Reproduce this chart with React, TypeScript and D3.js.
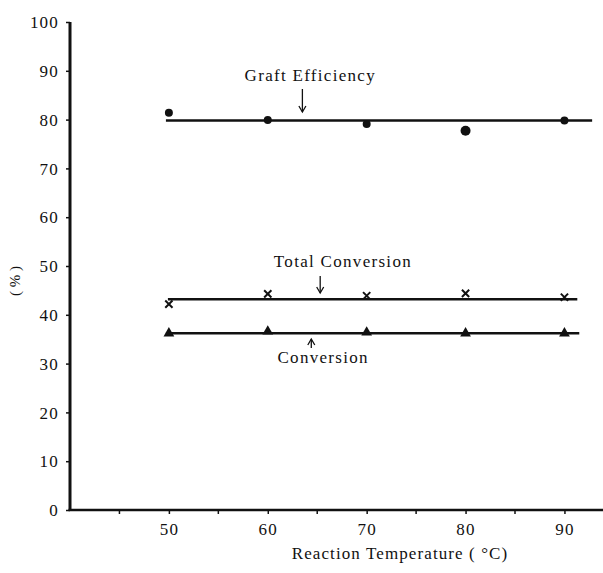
import * as d3 from 'd3'
import React, { useEffect, useRef } from 'react'

// reaction temperatures (°C)
const temps = [50, 60, 70, 80, 90];
// measured values (%)
const graftEfficiency = [81.4, 79.9, 79.1, 77.7, 79.8];
const totalConversion = [42.2, 44.3, 43.9, 44.4, 43.6];
const conversion = [36.0, 36.4, 36.2, 36.0, 36.0];
// fitted (horizontal) lines: level, start temp, end temp
const graftFit = [79.8, 49.7, 92.8];
const totalFit = [43.2, 49.9, 91.3];
const convFit = [36.2, 49.7, 91.5];

const yTicks = [0, 10, 20, 30, 40, 50, 60, 70, 80, 90, 100];
const xMajor = [50, 60, 70, 80, 90];
const xMinor = [45, 55, 65, 75, 85];

const W = 603;
const H = 573;

const App: React.FC = () => {
    const ref = useRef<SVGSVGElement>(null);

    useEffect(() => {
        if (!ref.current) return;
        const svg = d3.select(ref.current);
        svg.selectAll('*').remove();
        const font = '"Liberation Serif", "Times New Roman", serif';

        const x = d3.scaleLinear().domain([40, 94]).range([70, 604]);
        const y = d3.scaleLinear().domain([0, 100]).range([510, 22]);

        const g = svg.append('g').attr('font-family', font).attr('fill', '#111');

        // y axis
        const yAxis = g.append('g')
            .attr('transform', `translate(${x(40)},0)`)
            .call(d3.axisLeft(y).tickValues(yTicks).tickSize(4).tickPadding(7).tickFormat(d3.format('d')));
        yAxis.select('.domain').attr('stroke', '#111').attr('stroke-width', 3).attr('d', `M0,${y(100)}V${y(0)}`);
        yAxis.selectAll('.tick line').attr('stroke', '#111').attr('stroke-width', 1.5);
        yAxis.selectAll('.tick text')
            .attr('font-size', 17).attr('font-family', font).attr('fill', '#111')
            .attr('letter-spacing', 1.2).attr('dy', '0.34em');

        // x axis
        const xAxis = g.append('g')
            .attr('transform', `translate(0,${y(0)})`)
            .call(d3.axisBottom(x).tickValues(xMajor).tickSize(4).tickPadding(9).tickFormat(d3.format('d')));
        xAxis.select('.domain').attr('stroke', '#111').attr('stroke-width', 2.5).attr('d', `M${x(40) - 1.5},0H${x(94)}`);
        xAxis.selectAll('.tick line').attr('stroke', '#111').attr('stroke-width', 1.5);
        xAxis.selectAll('.tick text')
            .attr('font-size', 17).attr('font-family', font).attr('fill', '#111')
            .attr('letter-spacing', 1.2);
        xAxis.selectAll('line.minor')
            .data(xMinor)
            .enter()
            .append('line')
            .attr('class', 'minor')
            .attr('x1', d => x(d)).attr('x2', d => x(d))
            .attr('y1', 0).attr('y2', 4)
            .attr('stroke', '#111').attr('stroke-width', 1.5);

        // axis titles
        g.append('text')
            .attr('x', 400).attr('y', 559)
            .attr('text-anchor', 'middle')
            .attr('font-size', 17)
            .attr('letter-spacing', 1.1)
            .text('Reaction Temperature ( °C)');
        g.append('text')
            .attr('transform', `translate(20,${281}) rotate(-90)`)
            .attr('text-anchor', 'middle')
            .attr('font-size', 15)
            .text('( % )');

        // fitted lines
        [graftFit, totalFit, convFit].forEach(f => {
            g.append('line')
                .attr('x1', x(f[1])).attr('x2', x(f[2]))
                .attr('y1', y(f[0])).attr('y2', y(f[0]))
                .attr('stroke', '#111').attr('stroke-width', 2.5);
        });

        // graft efficiency: filled circles
        g.append('g').selectAll('circle')
            .data(temps.map((t, i) => [t, graftEfficiency[i]]))
            .enter()
            .append('circle')
            .attr('cx', d => x(d[0]))
            .attr('cy', d => y(d[1]))
            .attr('r', (d, i) => (i === 3 ? 5 : 4))
            .attr('fill', '#111');

        // total conversion: crosses
        const cross = d3.symbol().type(d3.symbolX).size(36);
        g.append('g').selectAll('path')
            .data(temps.map((t, i) => [t, totalConversion[i]]))
            .enter()
            .append('path')
            .attr('d', cross)
            .attr('transform', d => `translate(${x(d[0])},${y(d[1])})`)
            .attr('fill', 'none')
            .attr('stroke', '#111')
            .attr('stroke-width', 2);

        // conversion: filled triangles
        const tri = d3.symbol().type(d3.symbolTriangle).size(50);
        g.append('g').selectAll('path')
            .data(temps.map((t, i) => [t, conversion[i]]))
            .enter()
            .append('path')
            .attr('d', tri)
            .attr('transform', d => `translate(${x(d[0])},${y(d[1]) - 1})`)
            .attr('fill', '#111');

        // annotations with arrows
        const arrow = (xv: number, y1: number, y2: number) => {
            const dir = y2 > y1 ? 1 : -1;
            g.append('line')
                .attr('x1', x(xv)).attr('x2', x(xv))
                .attr('y1', y1).attr('y2', y2)
                .attr('stroke', '#111').attr('stroke-width', 1.3);
            g.append('path')
                .attr('d', `M${x(xv) - 3.5},${y2 - dir * 6}L${x(xv)},${y2}L${x(xv) + 3.5},${y2 - dir * 6}`)
                .attr('fill', 'none').attr('stroke', '#111').attr('stroke-width', 1.3);
        };

        g.append('text')
            .attr('x', x(64.3)).attr('y', 81)
            .attr('text-anchor', 'middle').attr('font-size', 17)
            .attr('letter-spacing', 1.3)
            .text('Graft  Efficiency');
        arrow(63.5, 89, 112);

        g.append('text')
            .attr('x', x(67.6)).attr('y', 267)
            .attr('text-anchor', 'middle').attr('font-size', 17)
            .attr('letter-spacing', 1.3)
            .text('Total  Conversion');
        arrow(65.3, 276, 293);

        g.append('text')
            .attr('x', x(65.6)).attr('y', 363)
            .attr('text-anchor', 'middle').attr('font-size', 17)
            .attr('letter-spacing', 1.3)
            .text('Conversion');
        arrow(64.4, 348, 339);
    }, []);

    return (
        <svg
            ref={ref}
            width={W}
            height={H}
            style={{ position: 'absolute', left: 0, top: 0, background: '#fff' }}
        />
    );
};

export default App;
